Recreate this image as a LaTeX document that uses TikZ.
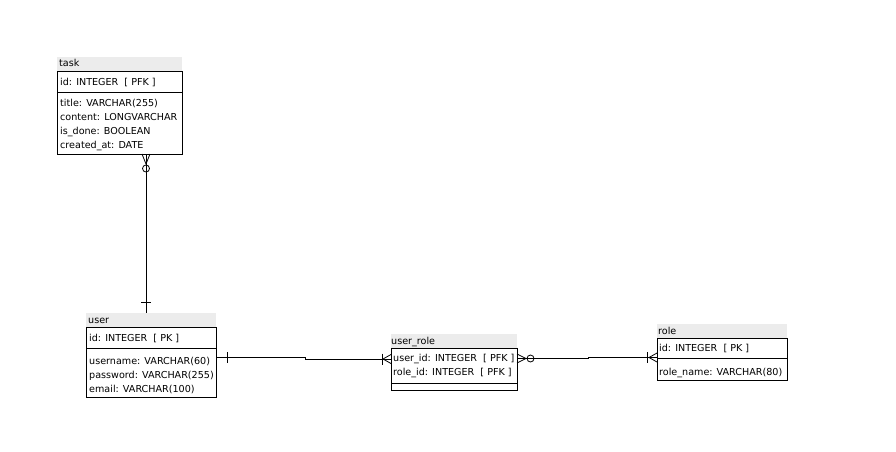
\documentclass[tikz,border=0pt]{standalone}
\usepackage{fontspec}
\setmainfont{DejaVu Sans}
\usetikzlibrary{calc}
\definecolor{hdr}{RGB}{236,236,236}
\begin{document}
\begin{tikzpicture}[x=1pt,y=-1pt,
  ebox/.style={draw=black, line width=0.8pt, inner sep=0pt, outer sep=0pt, anchor=north west},
  ehead/.style={fill=hdr, inner sep=0pt, outer sep=0pt, anchor=south west, minimum height=14pt},
  etext/.style={anchor=base west, inner sep=0pt, font=\fontsize{9.6}{11}\selectfont},
  conn/.style={line width=0.8pt},
  divl/.style={line width=0.8pt},
]
\useasboundingbox[fill=white] (0,0) rectangle (896,452);

% ---- task ----
\node[ehead, minimum width=125pt] (taskh) at (57,71) {};
\node[ebox, minimum width=125pt, minimum height=83pt] (task) at (57,71) {};
\draw[divl] ($(task.north west)+(0,21)$) -- ($(task.north east)+(0,21)$);
\node[etext] (taskn) at (59,66.5) {task};
\node[etext] (task1) at (60,85) {id: INTEGER\ \ [ PFK ]};
\node[etext] (task2) at (60,106.5) {title: VARCHAR(255)};
\node[etext] (task3) at (60,120.5) {content: LONGVARCHAR};
\node[etext] (task4) at (60,134.5) {is\_done: BOOLEAN};
\node[etext] (task5) at (60,148.5) {created\_at: DATE};

% ---- user ----
\node[ehead, minimum width=130pt] (userh) at (86,327) {};
\node[ebox, minimum width=130pt, minimum height=70pt] (user) at (86,327) {};
\draw[divl] ($(user.north west)+(0,21)$) -- ($(user.north east)+(0,21)$);
\node[etext] (usern) at (88,323.5) {user};
\node[etext] (user1) at (89,341) {id: INTEGER\ \ [ PK ]};
\node[etext] (user2) at (89,364.5) {username: VARCHAR(60)};
\node[etext] (user3) at (89,378.5) {password: VARCHAR(255)};
\node[etext] (user4) at (89,392.5) {email: VARCHAR(100)};

% ---- user_role ----
\node[ehead, minimum width=126pt] (urh) at (391,348) {};
\node[ebox, minimum width=126pt, minimum height=42pt] (ur) at (391,348) {};
\draw[divl] ($(ur.north west)+(0,35)$) -- ($(ur.north east)+(0,35)$);
\node[etext] (urn) at (391,344.5) {user\_role};
\node[etext] (ur1) at (393,361) {user\_id: INTEGER\ \ [ PFK ]};
\node[etext] (ur2) at (393,375) {role\_id: INTEGER\ \ [ PFK ]};

% ---- role ----
\node[ehead, minimum width=130pt] (roleh) at (657,338) {};
\node[ebox, minimum width=130pt, minimum height=42pt] (role) at (657,338) {};
\draw[divl] ($(role.north west)+(0,20)$) -- ($(role.north east)+(0,20)$);
\node[etext] (rolen) at (658,334) {role};
\node[etext] (role1) at (659,351.5) {id: INTEGER\ \ [ PK ]};
\node[etext] (role2) at (659,375.5) {role\_name: VARCHAR(80)};

% ---- task -- user ----
\coordinate (tu1) at (146,0 |- task.south);
\coordinate (tu2) at (146,0 |- userh.north);
\draw[conn] (tu1) -- (tu2);
\draw[conn] ($(tu1)+(-4,0)$) -- ($(tu1)+(0,10)$) -- ($(tu1)+(4,0)$);
\draw[conn] ($(tu1)+(0,14.5)$) circle[radius=3.5pt];
\draw[conn] ($(tu2)+(-5,-11)$) -- ($(tu2)+(5,-11)$);

% ---- user -- user_role ----
\coordinate (uu1) at (user.east |- 0,357.5);
\coordinate (uu2) at (ur.west |- 0,359);
\draw[conn] (uu1) -- (305,357.5) -- (305,359) -- (uu2);
\draw[conn] ($(uu1)+(11,-5.5)$) -- ($(uu1)+(11,5.5)$);
\draw[conn] ($(uu2)+(0,-4.5)$) -- ($(uu2)+(-8,0)$) -- ($(uu2)+(0,4.5)$);
\draw[conn] ($(uu2)+(-9,-5.5)$) -- ($(uu2)+(-9,5.5)$);

% ---- user_role -- role ----
\coordinate (ro1) at (ur.east |- 0,358.5);
\coordinate (ro2) at (role.west |- 0,357.5);
\draw[conn] (ro1) -- (588,358.5) -- (588,357.5) -- (ro2);
\draw[conn] ($(ro1)+(0,-4.5)$) -- ($(ro1)+(9,0)$) -- ($(ro1)+(0,4.5)$);
\draw[conn] ($(ro1)+(13.5,0)$) circle[radius=3.5pt];
\draw[conn] ($(ro2)+(0,-4.5)$) -- ($(ro2)+(-8,0)$) -- ($(ro2)+(0,4.5)$);
\draw[conn] ($(ro2)+(-9.5,-5.5)$) -- ($(ro2)+(-9.5,5.5)$);
\end{tikzpicture}
\end{document}
